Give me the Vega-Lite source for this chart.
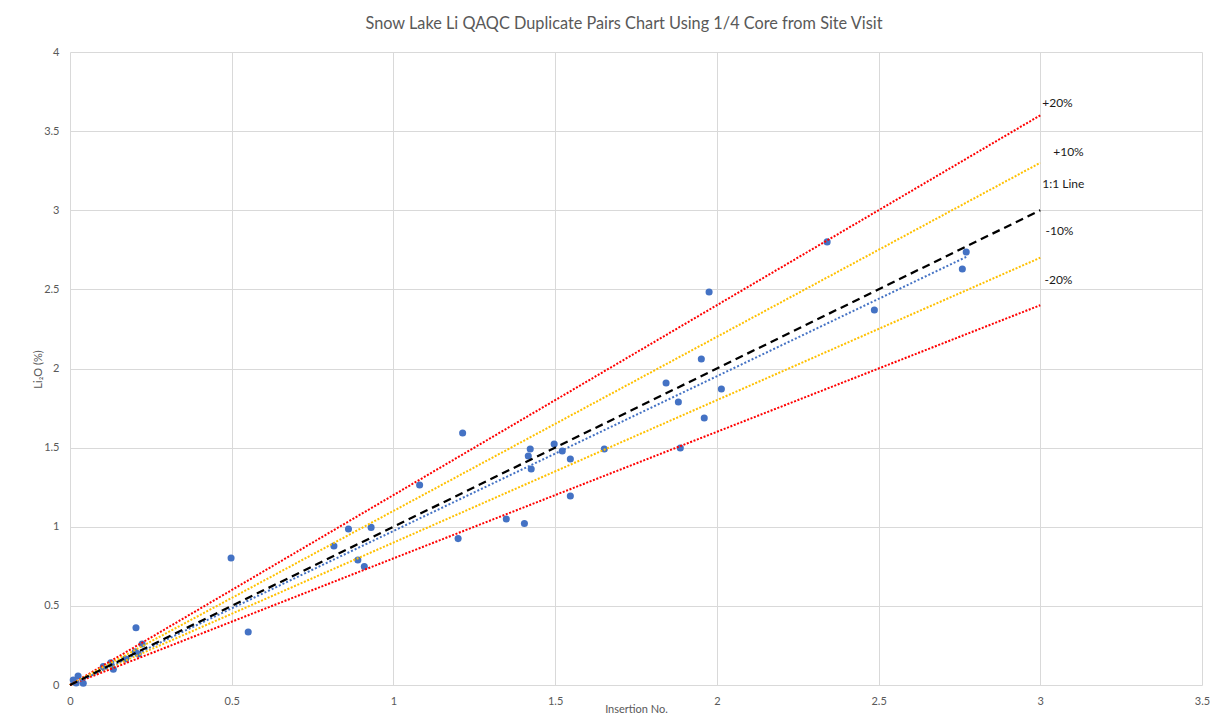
{
  "$schema": "https://vega.github.io/schema/vega-lite/v6.json",
  "width": 1132,
  "height": 633,
  "autosize": {"type": "none"},
  "padding": {"left": 70, "top": 52, "right": 30, "bottom": 30},
  "background": "white",
  "config": {
    "font": "Lato",
    "view": {"stroke": null},
    "axis": {
      "gridColor": "#D9D9D9",
      "gridWidth": 1,
      "domain": false,
      "ticks": false,
      "labelColor": "#595959",
      "labelFontSize": 11,
      "titleColor": "#595959",
      "titleFontSize": 11,
      "titleFontWeight": "normal",
      "format": ".1~f"
    }
  },
  "title": {
    "text": "Snow Lake Li QAQC Duplicate Pairs Chart Using 1/4 Core from Site Visit",
    "fontSize": 16.3,
    "fontWeight": "normal",
    "color": "#595959",
    "anchor": "middle",
    "offset": 14,
    "dx": -12
  },
  "datasets": {
    "points": [
      {"x": 2.341, "y": 2.80}, {"x": 2.771, "y": 2.736}, {"x": 2.759, "y": 2.629},
      {"x": 2.487, "y": 2.37}, {"x": 1.976, "y": 2.483}, {"x": 1.843, "y": 1.908},
      {"x": 1.952, "y": 2.06}, {"x": 1.881, "y": 1.788}, {"x": 2.014, "y": 1.87},
      {"x": 1.961, "y": 1.687}, {"x": 1.887, "y": 1.498}, {"x": 1.652, "y": 1.491},
      {"x": 1.497, "y": 1.523}, {"x": 1.522, "y": 1.479}, {"x": 1.423, "y": 1.491},
      {"x": 1.417, "y": 1.447}, {"x": 1.426, "y": 1.365}, {"x": 1.547, "y": 1.428},
      {"x": 1.547, "y": 1.194}, {"x": 1.214, "y": 1.592}, {"x": 1.081, "y": 1.264},
      {"x": 1.349, "y": 1.049}, {"x": 1.405, "y": 1.02}, {"x": 1.200, "y": 0.925},
      {"x": 0.931, "y": 0.996}, {"x": 0.861, "y": 0.986}, {"x": 0.816, "y": 0.878},
      {"x": 0.890, "y": 0.79}, {"x": 0.910, "y": 0.749}, {"x": 0.498, "y": 0.803},
      {"x": 0.551, "y": 0.335}, {"x": 0.204, "y": 0.362}, {"x": 0.223, "y": 0.259},
      {"x": 0.202, "y": 0.210}, {"x": 0.211, "y": 0.196}, {"x": 0.172, "y": 0.164},
      {"x": 0.126, "y": 0.141}, {"x": 0.103, "y": 0.116}, {"x": 0.134, "y": 0.099},
      {"x": 0.025, "y": 0.057}, {"x": 0.010, "y": 0.032}, {"x": 0.041, "y": 0.011},
      {"x": 0.019, "y": 0.013}
    ],
    "lines": [
      {"series": "+20%", "x": 0, "y": 0}, {"series": "+20%", "x": 3, "y": 3.6},
      {"series": "+10%", "x": 0, "y": 0}, {"series": "+10%", "x": 3, "y": 3.3},
      {"series": "-10%", "x": 0, "y": 0}, {"series": "-10%", "x": 3, "y": 2.7},
      {"series": "-20%", "x": 0, "y": 0}, {"series": "-20%", "x": 3, "y": 2.4},
      {"series": "trend", "x": 0.01, "y": 0.005}, {"series": "trend", "x": 2.771, "y": 2.705},
      {"series": "1:1", "x": 0, "y": 0}, {"series": "1:1", "x": 3, "y": 3}
    ],
    "labels": [
      {"label": "+20%", "x": 3.006, "y": 3.678},
      {"label": "+10%", "x": 3.04, "y": 3.368},
      {"label": "1:1 Line", "x": 3.006, "y": 3.166},
      {"label": "-10%", "x": 3.016, "y": 2.869},
      {"label": "-20%", "x": 3.013, "y": 2.559}
    ]
  },
  "encoding": {
    "x": {
      "field": "x", "type": "quantitative",
      "scale": {"domain": [0, 3.5], "nice": false, "zero": false},
      "axis": {"values": [0, 0.5, 1, 1.5, 2, 2.5, 3, 3.5], "format": ".1~f", "title": "Insertion No.", "labelPadding": 10, "titleY": 24, "titleBaseline": "middle", "labelFlush": false}
    },
    "y": {
      "field": "y", "type": "quantitative",
      "scale": {"domain": [0, 4], "nice": false, "zero": false},
      "axis": {"values": [0, 0.5, 1, 1.5, 2, 2.5, 3, 3.5, 4], "format": ".1~f", "title": "Li₂O (%)", "labelPadding": 11, "titleX": -32, "titleY": 317, "titleAngle": -90, "titleBaseline": "middle", "labelFlush": false}
    }
  },
  "layer": [
    {
      "data": {"name": "points"},
      "mark": {"type": "circle", "size": 50, "color": "#4472C4", "opacity": 1}
    },
    {
      "data": {"name": "lines"},
      "transform": [{"filter": "datum.series !== '1:1' && datum.series !== 'trend'"}],
      "mark": {"type": "line", "strokeWidth": 2, "strokeDash": [2, 1.6], "strokeCap": "butt"},
      "encoding": {
        "detail": {"field": "series"},
        "color": {"field": "series", "type": "nominal", "legend": null,
          "scale": {"domain": ["+20%", "+10%", "-10%", "-20%"], "range": ["#FF0000", "#FFC000", "#FFC000", "#FF0000"]}}
      }
    },
    {
      "data": {"name": "lines"},
      "transform": [{"filter": "datum.series === 'trend'"}],
      "mark": {"type": "line", "strokeWidth": 2, "strokeDash": [2, 2], "color": "#4472C4"},
      "encoding": {}
    },
    {
      "data": {"name": "lines"},
      "transform": [{"filter": "datum.series === '1:1'"}],
      "mark": {"type": "line", "strokeWidth": 2.25, "strokeDash": [8, 5], "color": "#000000"},
      "encoding": {}
    },
    {
      "data": {"name": "labels"},
      "mark": {"type": "text", "align": "left", "baseline": "middle", "fontSize": 12, "color": "#1a1a1a"},
      "encoding": {"text": {"field": "label"}}
    }
  ]
}
